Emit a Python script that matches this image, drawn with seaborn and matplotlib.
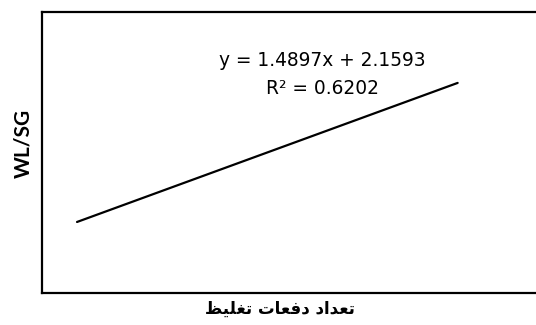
import matplotlib
matplotlib.use("Agg")
import matplotlib.pyplot as plt
import seaborn as sns
import pandas as pd

# Trendline endpoints
x_vals = [1, 10]
y_vals = [3.65, 17.06]
eq_text = "y = 1.4897x + 2.1593"
r2_text = "R² = 0.6202"
y_label = "WL/SG"
# "تعداد دفعات تغلیظ" shaped with presentation forms, in visual (LTR) order
w1 = "\uFE97\uFECC\uFEAA\uFE8D\uFEA9"        # تعداد
w2 = "\uFEA9\uFED3\uFECC\uFE8E\uFE95"        # دفعات
w3 = "\uFE97\uFED0\uFEE0\uFEF4\uFEC6"        # تغلیظ
x_label = " ".join([w3[::-1], w2[::-1], w1[::-1]])

sns.set_theme(style="white")
plt.rcParams['font.family'] = ['DejaVu Sans']

W, H = 536, 325
fig = plt.figure(figsize=(W / 100, H / 100), dpi=100)
fig.patch.set_facecolor("white")
ax = fig.add_axes([41.5 / W, 1 - 293 / H, (538 - 41.5) / W, (293 - 12) / H])

df = pd.DataFrame({"x": x_vals, "y": y_vals})
sns.lineplot(data=df, x="x", y="y", ax=ax, color="black", linewidth=1.6)

ax.set_xlim(0.16, 11.9)
ax.set_ylim(-3.2, 23.9)
ax.set_xticks([])
ax.set_yticks([])
ax.set_xlabel("")
ax.set_ylabel("")
for s in ax.spines.values():
    s.set_color("black")
    s.set_linewidth(1.6)
    s.set_visible(True)

fig.text(322 / W, 1 - 60 / H, eq_text, ha="center", va="center",
         fontsize=13.4, color="black")
fig.text(322 / W, 1 - 89 / H, r2_text, ha="center", va="center",
         fontsize=13.4, color="black")
fig.text(23 / W, 1 - 143 / H, y_label, ha="center", va="center", rotation=90,
         fontsize=15, fontweight="bold", color="black", family=['Lato', 'DejaVu Sans'])
fig.text(280 / W, 1 - 309 / H, x_label, ha="center", va="center",
         fontsize=12, fontweight="bold", color="black", family=['DejaVu Sans'])

fig.savefig("out.png", dpi=100, facecolor="white")
